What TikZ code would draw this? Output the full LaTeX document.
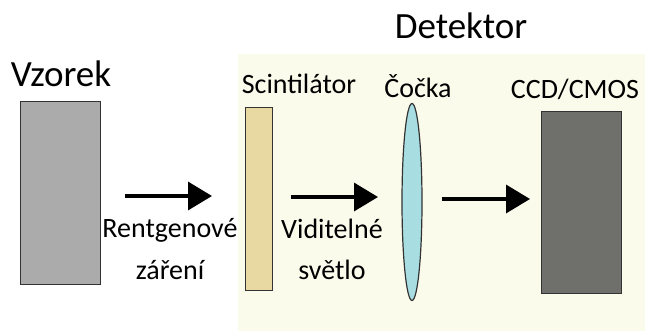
\documentclass[tikz,border=0pt]{standalone}
\usepackage{fontspec}
\setmainfont{Carlito}
\usetikzlibrary{arrows.meta,shapes.geometric}
\definecolor{bgdet}{HTML}{FBFBEC}
\definecolor{vzfill}{HTML}{ABABAB}
\definecolor{scfill}{HTML}{E8D9A2}
\definecolor{lensfill}{HTML}{A8DEE2}
\definecolor{ccdfill}{HTML}{6F6F6B}
\definecolor{edge}{HTML}{333333}
\tikzset{
  x=1pt, y=-1pt,
  block/.style={draw=edge, line width=1.2pt, inner sep=0pt, anchor=north west},
  bigtxt/.style={font=\fontsize{37}{40}\selectfont, inner sep=0pt, anchor=base},
  lbl/.style={font=\fontsize{28}{32}\selectfont, inner sep=0pt, anchor=base},
  arr/.style={line width=3.5pt, -{Triangle[length=24pt,width=28pt]}}
}
\begin{document}
\begin{tikzpicture}
\useasboundingbox (0,0) rectangle (645,331);
\fill[bgdet] (238,54) rectangle (645,331);
% blocks
\node[block, fill=vzfill, minimum width=80pt, minimum height=183pt] (vz) at (20,101) {};
\node[block, fill=scfill, minimum width=27pt, minimum height=183pt] (sc) at (245,107) {};
\node[ellipse, draw=edge, line width=1.2pt, fill=lensfill, minimum width=20pt, minimum height=197pt, inner sep=0pt] (lens) at (412,202) {};
\node[block, fill=ccdfill, minimum width=80pt, minimum height=182pt] (ccd) at (541,111) {};
% titles
\node[bigtxt] (tvz) at (61,87) {Vzorek};
\node[bigtxt] (tdet) at (461,39) {Detektor};
\node[lbl] (tsc) at (299,94) {Scintilátor};
\node[lbl] (tlens) at (418,98) {Čočka};
\node[lbl] (tccd) at (575,99) {CCD/CMOS};
\node[lbl] (tx1) at (170,237) {Rentgenové};
\node[lbl] (tx2) at (170,279) {záření};
\node[lbl] (tv1) at (332,238) {Viditelné};
\node[lbl] (tv2) at (332,279) {světlo};
% arrows
\coordinate (a1s) at (125,196);
\coordinate (a1e) at (212,196);
\coordinate (a2s) at (291,197);
\coordinate (a2e) at (378,197);
\coordinate (a3s) at (442,199);
\coordinate (a3e) at (530,199);
\draw[arr] (a1s) -- (a1e);
\draw[arr] (a2s) -- (a2e);
\draw[arr] (a3s) -- (a3e);
\end{tikzpicture}
\end{document}
